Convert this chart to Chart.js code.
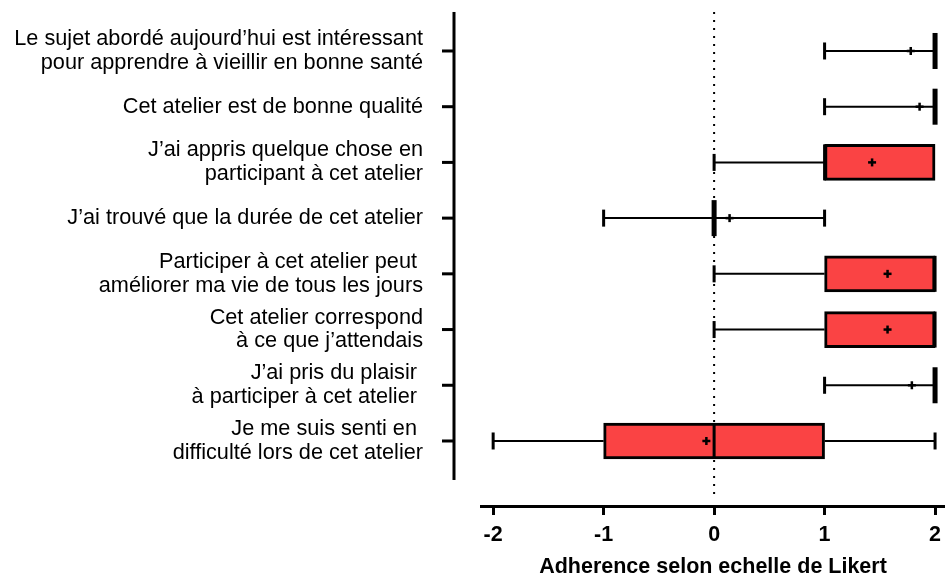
<!DOCTYPE html>
<html lang="fr">
<head>
<meta charset="utf-8">
<title>Adherence selon echelle de Likert</title>
<script src="https://cdn.jsdelivr.net/npm/chart.js@4.4.1/dist/chart.umd.min.js"></script>
<style>
  html, body { margin: 0; padding: 0; background: #ffffff; }
  #wrap { width: 945px; height: 576px; }
</style>
</head>
<body>
<div id="wrap"><canvas id="chart" width="945" height="576"></canvas></div>
<script>
// Survey statements (top to bottom), each split into display lines
const statements = [
  ["Le sujet abordé aujourd’hui est intéressant", "pour apprendre à vieillir en bonne santé"],
  ["Cet atelier est de bonne qualité"],
  ["J’ai appris quelque chose en", "participant à cet atelier"],
  ["J’ai trouvé que la durée de cet atelier"],
  ["Participer à cet atelier peut ", "améliorer ma vie de tous les jours"],
  ["Cet atelier correspond", "à ce que j’attendais"],
  ["J’ai pris du plaisir ", "à participer à cet atelier "],
  ["Je me suis senti en ", "difficulté lors de cet atelier"]
];

// Five-number summaries and means on the Likert scale (-2 .. 2)
const minimums  = [1, 1, 0, -1, 0, 0, 1, -2];
const quartile1 = [2, 2, 1,  0, 1, 1, 2, -1];
const medians   = [2, 2, 1,  0, 2, 2, 2,  0];
const quartile3 = [2, 2, 2,  0, 2, 2, 2,  1];
const maximums  = [2, 2, 2,  1, 2, 2, 2,  2];
const means     = [1.78, 1.86, 1.43, 0.14, 1.57, 1.57, 1.79, -0.07];

// Likert tick values along the horizontal axis
const likertTicks = [-2, -1, 0, 1, 2];

const FONT = '"Liberation Sans", Arial, Helvetica, sans-serif';
const BOX_RED = '#FA4344';
const BOX_HEIGHT = 36;

// Whiskers, caps, medians, means, zero reference line and the offset category axis
const boxPlotPlugin = {
  id: 'boxPlotParts',
  beforeDatasetsDraw(chart) {
    const { ctx, scales: { x, y } } = chart;
    const x0 = x.getPixelForValue(0);
    ctx.save();
    ctx.strokeStyle = '#000';
    ctx.lineWidth = 2;
    ctx.setLineDash([2, 6]);
    ctx.beginPath();
    ctx.moveTo(x0, y.getPixelForValue(0.3));
    ctx.lineTo(x0, chart.chartArea.bottom - 6);
    ctx.stroke();
    ctx.restore();

    // whiskers behind the boxes
    ctx.save();
    ctx.strokeStyle = '#000';
    ctx.lineWidth = 2;
    statements.forEach((_, i) => {
      const py = y.getPixelForValue(i + 1);
      ctx.beginPath();
      ctx.moveTo(x.getPixelForValue(minimums[i]), py);
      ctx.lineTo(x.getPixelForValue(quartile1[i]), py);
      ctx.moveTo(x.getPixelForValue(quartile3[i]), py);
      ctx.lineTo(x.getPixelForValue(maximums[i]), py);
      ctx.stroke();
    });
    ctx.restore();
  },
  afterDatasetsDraw(chart) {
    const { ctx, chartArea, scales: { x, y } } = chart;
    ctx.save();
    ctx.fillStyle = '#000';
    statements.forEach((_, i) => {
      const py = y.getPixelForValue(i + 1);
      // whisker caps
      [minimums[i], maximums[i]].forEach((v, k) => {
        if ((k === 0 && v !== quartile1[i]) || (k === 1 && v !== quartile3[i])) {
          const px = x.getPixelForValue(v);
          ctx.fillRect(px - 1.5, py - 8.5, 3, 17);
        }
      });
      // median (a collapsed box shows as a heavy bar)
      const pm = x.getPixelForValue(medians[i]);
      if (quartile1[i] === quartile3[i]) {
        ctx.fillRect(pm - 2.5, py - BOX_HEIGHT / 2, 5, BOX_HEIGHT);
      } else {
        ctx.fillRect(pm - 1.5, py - BOX_HEIGHT / 2, 3, BOX_HEIGHT);
      }
      // mean marker "+"
      const pmean = x.getPixelForValue(means[i]);
      ctx.fillRect(pmean - 4, py - 1.25, 8, 2.5);
      ctx.fillRect(pmean - 1.25, py - 4, 2.5, 8);
    });

    // offset category axis with outward ticks
    const axisX = chartArea.left - 27;
    ctx.fillRect(axisX - 1.5, y.getPixelForValue(0.3), 3, y.getPixelForValue(8.7) - y.getPixelForValue(0.3));
    statements.forEach((_, i) => {
      const py = y.getPixelForValue(i + 1);
      ctx.fillRect(axisX - 12, py - 1.5, 12, 3);
    });
    ctx.restore();
  }
};

new Chart(document.getElementById('chart'), {
  type: 'bar',
  data: {
    datasets: [{
      data: statements.map((_, i) => ({ y: i + 1, x: [quartile1[i], quartile3[i]] })),
      backgroundColor: BOX_RED,
      borderColor: '#000',
      borderWidth: 3,
      borderSkipped: false,
      barThickness: BOX_HEIGHT
    }]
  },
  options: {
    indexAxis: 'y',
    responsive: false,
    animation: false,
    devicePixelRatio: 1,
    layout: { padding: 0 },
    plugins: { legend: { display: false }, tooltip: { enabled: false } },
    scales: {
      x: {
        type: 'linear',
        min: -2.11,
        max: 2.09,
        afterBuildTicks(scale) { scale.ticks = likertTicks.map(v => ({ value: v })); },
        afterFit(scale) {
          scale.height = 70;
          scale.paddingLeft = 0;
          scale.paddingRight = 0;
        },
        grid: {
          display: true,
          drawOnChartArea: false,
          drawTicks: true,
          tickLength: 9,
          tickWidth: 3,
          tickColor: '#000'
        },
        border: { display: true, color: '#000', width: 3 },
        ticks: {
          color: '#000',
          padding: 7,
          font: { family: FONT, size: 21.5, weight: 'bold' },
          callback: v => String(v)
        },
        title: {
          display: true,
          text: 'Adherence selon echelle de Likert',
          color: '#000',
          padding: 0,
          font: { family: FONT, size: 21.5, weight: 'bold', lineHeight: 0.8 }
        }
      },
      y: {
        type: 'linear',
        offset: false,
        reverse: true,
        min: 0.085,
        max: 9.167,
        afterBuildTicks(scale) { scale.ticks = statements.map((_, i) => ({ value: i + 1 })); },
        afterFit(scale) {
          scale.width = 481;
          scale.paddingTop = 0;
          scale.paddingBottom = 0;
        },
        grid: { display: false, offset: false },
        border: { display: false },
        ticks: {
          color: '#000',
          padding: 50,
          font: { family: FONT, size: 21.7, lineHeight: 1.1 },
          callback: (v) => statements[Math.round(v) - 1]
        }
      }
    }
  },
  plugins: [boxPlotPlugin]
});
</script>
</body>
</html>
